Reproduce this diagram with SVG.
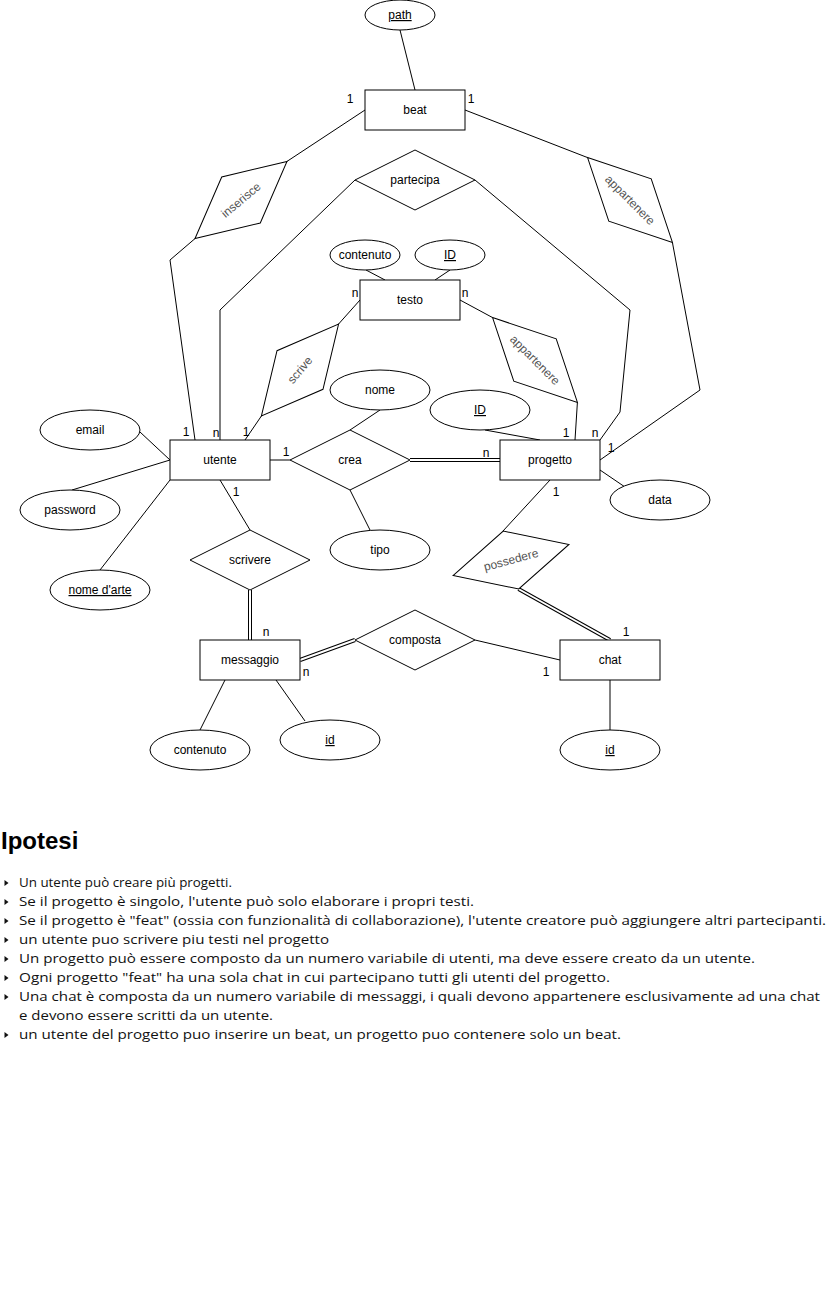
<svg xmlns="http://www.w3.org/2000/svg" width="830" height="1304" viewBox="0 0 830 1304">
<style>
.bg{fill:#fff}
.sh{fill:#fff;stroke:#000;stroke-width:1}
.ln{fill:none;stroke:#000;stroke-width:1}
.dblo{fill:none;stroke:#000;stroke-width:4}
.dbli{fill:none;stroke:#fff;stroke-width:2}
.t{font-family:"Liberation Sans",Arial,sans-serif;font-size:12px;fill:#000;text-anchor:middle}
.tr{font-family:"Liberation Sans",Arial,sans-serif;font-size:12px;fill:#555;text-anchor:middle}
.u{text-decoration:underline}
.lb{font-family:"Liberation Sans",Arial,sans-serif;font-size:12px;fill:#000;text-anchor:middle}
.h{font-family:"Liberation Sans",Arial,sans-serif;font-size:24px;font-weight:bold;fill:#000}
.p{font-family:"Open Sans","Noto Sans",sans-serif;font-size:13.3px;fill:#111}
.bul{fill:#111}
</style>
<rect class="bg" x="0" y="0" width="830" height="1304"/>
<g id="connectors">
<polyline class="ln" points="400,30 415,90"/>
<polyline class="ln" points="365,110 287,161.4"/>
<polyline class="ln" points="195,238.6 170,260 195,440"/>
<polyline class="ln" points="465,110 587.6,157.6"/>
<polyline class="ln" points="672.4,242.4 700,390 600,460"/>
<polyline class="ln" points="355,180 220,310 220,440"/>
<polyline class="ln" points="475,180 630,310 620,412 600,440"/>
<polyline class="ln" points="366,270 385,280"/>
<polyline class="ln" points="450,270 435,280"/>
<polyline class="ln" points="360,300 338.6,324"/>
<polyline class="ln" points="261.4,416 245,440"/>
<polyline class="ln" points="460,300 492.6,317.6"/>
<polyline class="ln" points="577.4,402.4 575,440"/>
<polyline class="ln" points="380,410 350,430"/>
<polyline class="ln" points="485,430 540,440"/>
<polyline class="ln" points="140,432 170,460"/>
<polyline class="ln" points="72,490 170,460"/>
<polyline class="ln" points="100,570 170,480"/>
<polyline class="ln" points="270,460 290,460"/>
<polyline class="ln" points="350,490 370,530"/>
<polyline class="ln" points="600,470 625,487"/>
<polyline class="ln" points="220,480 250,530"/>
<polyline class="ln" points="550,480 503,531"/>
<polyline class="ln" points="475,640 560,660"/>
<polyline class="ln" points="610,680 610,730"/>
<polyline class="ln" points="225,680 200,730"/>
<polyline class="ln" points="276,680 305,721"/>
<polyline class="dblo" points="410,460 500,460"/>
<polyline class="dbli" points="410,460 500,460"/>
<polyline class="dblo" points="250,590 250,640"/>
<polyline class="dbli" points="250,590 250,640"/>
<polyline class="dblo" points="518.5,589 610,640"/>
<polyline class="dbli" points="518.5,589 610,640"/>
<polyline class="dblo" points="300,660 355,640"/>
<polyline class="dbli" points="300,660 355,640"/>
<text class="lb" x="350" y="103">1</text>
<text class="lb" x="471" y="103">1</text>
<text class="lb" x="355" y="297">n</text>
<text class="lb" x="465" y="297">n</text>
<text class="lb" x="186" y="436">1</text>
<text class="lb" x="216" y="437">n</text>
<text class="lb" x="246" y="436">1</text>
<text class="lb" x="286" y="456">1</text>
<text class="lb" x="236" y="496">1</text>
<text class="lb" x="566" y="437">1</text>
<text class="lb" x="595" y="437">n</text>
<text class="lb" x="611" y="452">1</text>
<text class="lb" x="486" y="457">n</text>
<text class="lb" x="556" y="496">1</text>
<text class="lb" x="266" y="636">n</text>
<text class="lb" x="306" y="676">n</text>
<text class="lb" x="546" y="676">1</text>
<text class="lb" x="626" y="636">1</text>
</g>
<g id="path"><ellipse class="sh" cx="400" cy="15" rx="35" ry="15"/><text class="t u" x="400" y="19">path</text></g>
<g id="beat"><rect class="sh" x="365" y="90" width="100" height="40"/><text class="t" x="415" y="114">beat</text></g>
<g id="partecipa"><polygon class="sh" points="355,180 415,150 475,180 415,210"/><text class="t" x="415" y="184">partecipa</text></g>
<g id="inserisce" transform="translate(241,200) rotate(-40)"><polygon class="sh" points="-60,0 0,-30 60,0 0,30"/><text class="tr" x="0" y="4">inserisce</text></g>
<g id="appartenere-beat" transform="translate(630,200) rotate(45)"><polygon class="sh" points="-60,0 0,-30 60,0 0,30"/><text class="tr" x="0" y="4">appartenere</text></g>
<g id="contenuto-testo"><ellipse class="sh" cx="365" cy="255" rx="35" ry="15"/><text class="t" x="365" y="259">contenuto</text></g>
<g id="id-testo"><ellipse class="sh" cx="450" cy="255" rx="35" ry="15"/><text class="t u" x="450" y="259">ID</text></g>
<g id="testo"><rect class="sh" x="360" y="280" width="100" height="40"/><text class="t" x="410" y="304">testo</text></g>
<g id="scrive" transform="translate(300,370) rotate(-50)"><polygon class="sh" points="-60,0 0,-30 60,0 0,30"/><text class="tr" x="0" y="4">scrive</text></g>
<g id="appartenere-testo" transform="translate(535,360) rotate(45)"><polygon class="sh" points="-60,0 0,-30 60,0 0,30"/><text class="tr" x="0" y="4">appartenere</text></g>
<g id="nome"><ellipse class="sh" cx="380" cy="390" rx="50" ry="20"/><text class="t" x="380" y="394">nome</text></g>
<g id="id-progetto"><ellipse class="sh" cx="480" cy="410" rx="50" ry="20"/><text class="t u" x="480" y="414">ID</text></g>
<g id="email"><ellipse class="sh" cx="90" cy="430" rx="50" ry="20"/><text class="t" x="90" y="434">email</text></g>
<g id="password"><ellipse class="sh" cx="70" cy="510" rx="50" ry="20"/><text class="t" x="70" y="514">password</text></g>
<g id="nome-arte"><ellipse class="sh" cx="100" cy="590" rx="50" ry="20"/><text class="t u" x="100" y="594">nome d'arte</text></g>
<g id="utente"><rect class="sh" x="170" y="440" width="100" height="40"/><text class="t" x="220" y="464">utente</text></g>
<g id="crea"><polygon class="sh" points="290,460 350,430 410,460 350,490"/><text class="t" x="350" y="464">crea</text></g>
<g id="progetto"><rect class="sh" x="500" y="440" width="100" height="40"/><text class="t" x="550" y="464">progetto</text></g>
<g id="data"><ellipse class="sh" cx="660" cy="500" rx="50" ry="20"/><text class="t" x="660" y="504">data</text></g>
<g id="tipo"><ellipse class="sh" cx="380" cy="550" rx="50" ry="20"/><text class="t" x="380" y="554">tipo</text></g>
<g id="scrivere"><polygon class="sh" points="190,560 250,530 310,560 250,590"/><text class="t" x="250" y="564">scrivere</text></g>
<g id="possedere" transform="translate(511,560) rotate(-15)"><polygon class="sh" points="-60,0 0,-30 60,0 0,30"/><text class="tr" x="0" y="4">possedere</text></g>
<g id="messaggio"><rect class="sh" x="200" y="640" width="100" height="40"/><text class="t" x="250" y="664">messaggio</text></g>
<g id="composta"><polygon class="sh" points="355,640 415,610 475,640 415,670"/><text class="t" x="415" y="644">composta</text></g>
<g id="chat"><rect class="sh" x="560" y="640" width="100" height="40"/><text class="t" x="610" y="664">chat</text></g>
<g id="contenuto-msg"><ellipse class="sh" cx="200" cy="750" rx="50" ry="20"/><text class="t" x="200" y="754">contenuto</text></g>
<g id="id-msg"><ellipse class="sh" cx="330" cy="740" rx="50" ry="20"/><text class="t u" x="330" y="744">id</text></g>
<g id="id-chat"><ellipse class="sh" cx="610" cy="750" rx="50" ry="20"/><text class="t u" x="610" y="754">id</text></g>
<g id="ipotesi">
<text class="h" x="1" y="849">Ipotesi</text>
<polygon class="bul" points="4.5,880 8.5,883 4.5,886"/>
<polygon class="bul" points="4.5,899 8.5,902 4.5,905"/>
<polygon class="bul" points="4.5,918 8.5,921 4.5,924"/>
<polygon class="bul" points="4.5,937 8.5,940 4.5,943"/>
<polygon class="bul" points="4.5,956 8.5,959 4.5,962"/>
<polygon class="bul" points="4.5,975 8.5,978 4.5,981"/>
<polygon class="bul" points="4.5,994 8.5,997 4.5,1000"/>
<polygon class="bul" points="4.5,1032 8.5,1035 4.5,1038"/>
<text class="p" x="19" y="887" textLength="213" lengthAdjust="spacingAndGlyphs">Un utente può creare più progetti.</text>
<text class="p" x="19" y="906" textLength="455" lengthAdjust="spacingAndGlyphs">Se il progetto è singolo, l'utente può solo elaborare i propri testi.</text>
<text class="p" x="19" y="925" textLength="807" lengthAdjust="spacingAndGlyphs">Se il progetto è "feat" (ossia con funzionalità di collaborazione), l'utente creatore può aggiungere altri partecipanti.</text>
<text class="p" x="19" y="944" textLength="310" lengthAdjust="spacingAndGlyphs">un utente puo scrivere piu testi nel progetto</text>
<text class="p" x="19" y="963" textLength="736" lengthAdjust="spacingAndGlyphs">Un progetto può essere composto da un numero variabile di utenti, ma deve essere creato da un utente.</text>
<text class="p" x="19" y="982" textLength="591" lengthAdjust="spacingAndGlyphs">Ogni progetto "feat" ha una sola chat in cui partecipano tutti gli utenti del progetto.</text>
<text class="p" x="19" y="1001" textLength="801" lengthAdjust="spacingAndGlyphs">Una chat è composta da un numero variabile di messaggi, i quali devono appartenere esclusivamente ad una chat</text>
<text class="p" x="19" y="1020" textLength="254" lengthAdjust="spacingAndGlyphs">e devono essere scritti da un utente.</text>
<text class="p" x="19" y="1039" textLength="602" lengthAdjust="spacingAndGlyphs">un utente del progetto puo inserire un beat, un progetto puo contenere solo un beat.</text>
</g>
</svg>
